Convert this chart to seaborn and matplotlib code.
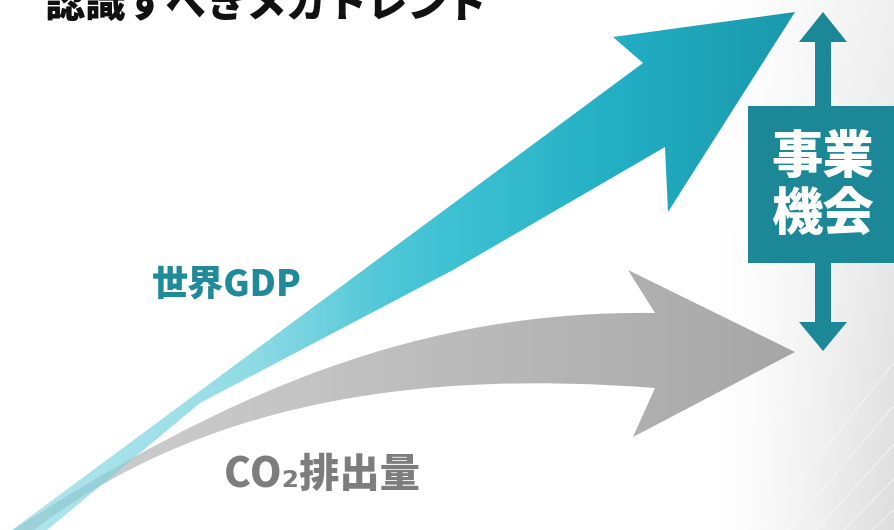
import numpy as np
import matplotlib
matplotlib.use("Agg")
import matplotlib.pyplot as plt
from matplotlib.path import Path
from matplotlib.patches import PathPatch, Polygon, Rectangle
from matplotlib.colors import to_rgb
import seaborn as sns

# ---- content ----
title_text = "認識すべきメガトレンド"
gdp_label = "世界GDP"
co2_label = "CO₂排出量"
box_label = "事業\n機会"

# ---- diagram geometry (pixel space, y down) ----
gdp_upper_edge = [(4, 536), (643, 63)]
gdp_head = [(613, 37), (795, 12), (668, 212), (665, 147)]
gdp_lower_edge = [(453, 270), (200, 403), (40, 536)]

co2_upper_ctrl = [(8, 533), (230, 390), (420, 310), (655, 313)]
co2_head = [(628, 270), (795, 352), (633, 437), (655, 388)]
co2_lower_ctrl = [(655, 388), (420, 370), (200, 400), (26, 536)]

sns.set_theme(style="white")
plt.rcParams['font.family'] = ['Noto Sans CJK JP', 'DejaVu Sans']

W, H = 894, 530
fig = plt.figure(figsize=(W / 100, H / 100), dpi=100)
ax = fig.add_axes([0, 0, 1, 1])
ax.set_xlim(0, W)
ax.set_ylim(H, 0)
ax.axis("off")

# background: white fading to light grey on the right
xx = np.linspace(0, 1, 300)
yy = np.linspace(0, 1, 200)
X, Y = np.meshgrid(xx, yy)
shade = np.clip((X * W - 720) / 174, 0, 1) ** 1.3 * (0.06 + 0.07 * Y)
bg = np.dstack([1 - shade] * 3)
ax.imshow(bg, extent=[0, W, H, 0], aspect="auto", zorder=0)
for k in range(5):
    x0 = 760 + k * 28
    ax.plot([x0, x0 + 160], [H, H - 200 + k * 12], color="white", lw=1.0, alpha=0.45, zorder=0.5)


def gradient_fill(path, stops, alpha_stops, z):
    patch = PathPatch(path, facecolor="none", edgecolor="none", zorder=z)
    ax.add_patch(patch)
    xs = np.linspace(0, W, 600)
    cols = np.array([to_rgb(c) for _, c in stops])
    pos = np.array([p for p, _ in stops])
    rgb = np.stack([np.interp(xs, pos, cols[:, i]) for i in range(3)], axis=1)
    a = np.interp(xs, [p for p, _ in alpha_stops], [v for _, v in alpha_stops])
    img = np.concatenate([rgb, a[:, None]], axis=1)[None, :, :].repeat(2, axis=0)
    im = ax.imshow(img, extent=[0, W, H, 0], aspect="auto", zorder=z, interpolation="bilinear")
    im.set_clip_path(patch)


# CO2 arrow (grey, curved)
verts = list(co2_upper_ctrl) + co2_head + co2_lower_ctrl[1:] + [co2_upper_ctrl[0]]
codes = ([Path.MOVETO] + [Path.CURVE4] * 3 + [Path.LINETO] * 4 + [Path.CURVE4] * 3 + [Path.CLOSEPOLY])
co2_path = Path(verts, codes)
gradient_fill(co2_path,
              [(0, "#d0d0d0"), (300, "#c4c4c4"), (600, "#b2b2b2"), (800, "#a6a6a6"), (W, "#a6a6a6")],
              [(0, 1), (W, 1)], 2)

# GDP arrow (teal, straight)
gdp_verts = gdp_upper_edge + gdp_head + gdp_lower_edge + [gdp_upper_edge[0]]
gdp_codes = [Path.MOVETO] + [Path.LINETO] * (len(gdp_verts) - 2) + [Path.CLOSEPOLY]
gdp_path = Path(gdp_verts, gdp_codes)
gradient_fill(gdp_path,
              [(0, "#80d4e0"), (250, "#72d2df"), (450, "#3ec2d4"), (620, "#22aec3"), (800, "#1a98ab"), (W, "#1a98ab")],
              [(0, 0.6), (200, 0.72), (380, 1.0), (W, 1.0)], 3)

# double arrow + box
teal_dark = "#1b8797"
cx = 823
ax.add_patch(Rectangle((cx - 8, 40), 16, 284, color=teal_dark, zorder=4, lw=0))
ax.add_patch(Polygon([(cx - 24, 42), (cx, 12), (cx + 24, 42)], closed=True, color=teal_dark, zorder=4, lw=0))
ax.add_patch(Polygon([(cx - 24, 322), (cx, 351), (cx + 24, 322)], closed=True, color=teal_dark, zorder=4, lw=0))
ax.add_patch(Rectangle((748, 106), 150, 157, color=teal_dark, zorder=5, lw=0))
ax.text(cx, 186, box_label, color="white", fontsize=37, fontweight="heavy",
        ha="center", va="center", linespacing=1.1, zorder=6)

# labels
ax.text(227, 285, gdp_label, color="#1f8a9a", fontsize=26, fontweight="heavy",
        ha="center", va="center", zorder=6)
ax.text(322, 475, co2_label, color="#7d7d7d", fontsize=29, fontweight="heavy",
        ha="center", va="center", zorder=6)

# title (cut off at the top edge, as in the reference)
ax.text(266, 5, title_text, color="#111111", fontsize=29, fontweight="heavy",
        ha="center", va="center", zorder=6)

fig.savefig("out.png", dpi=100)
